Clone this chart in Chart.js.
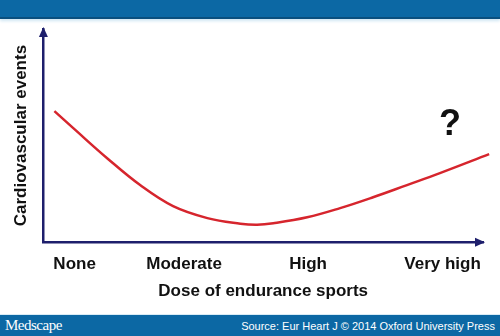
<!DOCTYPE html>
<html>
<head>
<meta charset="utf-8">
<script src="https://cdn.jsdelivr.net/npm/chart.js@4/dist/chart.umd.min.js"></script>
<style>
  html, body { margin: 0; padding: 0; background: #fff; }
  #wrap { position: relative; width: 500px; height: 336px; overflow: hidden; }
  #chart1 { position: absolute; left: 0; top: 0; }
  .bar { position: absolute; left: 0; width: 500px; background: #0c68a4; }
  #head { top: 0; height: 17px; border-bottom: 2px solid #0a4f7e; box-shadow: 0 2px 3px #cfe6f3; }
  #foot { top: 314px; height: 22px; border-top: 1px solid #d9ecf6; color: #fff; }
  #logo { position: absolute; left: 5px; top: 2px; font: 15px "Liberation Serif", serif; letter-spacing: -0.5px; }
  #src { position: absolute; right: 5px; top: 5px; font: 11px "Liberation Sans", Arial, sans-serif; }
</style>
</head>
<body>
<div id="wrap">
  <canvas id="chart1" width="500" height="336"></canvas>
  <div class="bar" id="head"></div>
  <div class="bar" id="foot"><span id="logo">Medscape</span><span id="src">Source: Eur Heart J © 2014 Oxford University Press</span></div>
</div>
<script>
// dose on a 0..100 scale, events on a 0..100 scale
var doseValues = [2.5, 6.8, 14.5, 22.0, 29.5, 37.3, 44.8, 48.6, 52.3, 60.0, 67.5, 75.0, 82.7, 90.2, 101.4];
var eventValues = [61.5, 53.5, 39.4, 26.8, 16.9, 11.3, 8.7, 8.2, 8.9, 11.7, 16.0, 21.1, 26.8, 32.4, 41.3];
var tickLabels = ['None', 'Moderate', 'High', 'Very high'];
var tickPositions = [7.1, 32.0, 60.2, 90.8];
var questionMark = { x: 92.5, y: 55, text: '?' };

var navy = '#1e1f6c';
var font = 'Liberation Sans, Arial, sans-serif';

var arrows = {
    id: 'arrows',
    afterDraw(chart) {
        const ctx = chart.ctx;
        const a = chart.chartArea;
        ctx.save();
        ctx.fillStyle = navy;
        // y axis arrow
        ctx.beginPath();
        ctx.moveTo(a.left, a.top - 2);
        ctx.lineTo(a.left - 4.5, a.top + 8);
        ctx.lineTo(a.left + 4.5, a.top + 8);
        ctx.closePath();
        ctx.fill();
        // x axis arrow
        ctx.beginPath();
        ctx.moveTo(a.right + 2, a.bottom);
        ctx.lineTo(a.right - 8, a.bottom - 4.5);
        ctx.lineTo(a.right - 8, a.bottom + 4.5);
        ctx.closePath();
        ctx.fill();
        // question mark
        const x = chart.scales.x.getPixelForValue(questionMark.x);
        const y = chart.scales.y.getPixelForValue(questionMark.y);
        ctx.fillStyle = '#111';
        ctx.font = 'bold 36px ' + font;
        ctx.textAlign = 'center';
        ctx.textBaseline = 'middle';
        ctx.fillText(questionMark.text, x, y);
        ctx.restore();
    }
};

var points = doseValues.map((d, i) => ({ x: d, y: eventValues[i] }));

new Chart(document.getElementById('chart1'), {
    type: 'line',
    data: {
        datasets: [{
            data: points,
            borderColor: '#d6252d',
            borderWidth: 2.5,
            pointRadius: 0,
            tension: 0.4,
            clip: false
        }]
    },
    options: {
        responsive: false,
        animation: false,
        events: [],
        layout: { padding: { left: 11, right: 17, top: 29, bottom: 34 } },
        plugins: { legend: { display: false }, tooltip: { enabled: false } },
        scales: {
            x: {
                type: 'linear',
                min: 0,
                max: 100,
                grid: { display: false, drawTicks: false },
                border: { display: true, color: navy, width: 2.5 },
                afterBuildTicks: (scale) => {
                    scale.ticks = tickPositions.map(v => ({ value: v }));
                },
                ticks: {
                    autoSkip: false,
                    maxRotation: 0,
                    padding: 12,
                    color: '#111',
                    font: { family: font, size: 17, weight: 'bold' },
                    callback: (v, i) => tickLabels[i]
                },
                title: {
                    display: true,
                    text: 'Dose of endurance sports',
                    color: '#111',
                    font: { family: font, size: 17, weight: 'bold' },
                    padding: { top: -5, bottom: 0 }
                }
            },
            y: {
                min: 0,
                max: 100,
                grid: { display: false, drawTicks: false },
                border: { display: true, color: navy, width: 2.5 },
                ticks: { display: false },
                title: {
                    display: true,
                    text: 'Cardiovascular events',
                    color: '#111',
                    font: { family: font, size: 17, weight: 'bold' },
                    padding: { top: 0, bottom: 12 }
                }
            }
        }
    },
    plugins: [arrows]
});
</script>
</body>
</html>
